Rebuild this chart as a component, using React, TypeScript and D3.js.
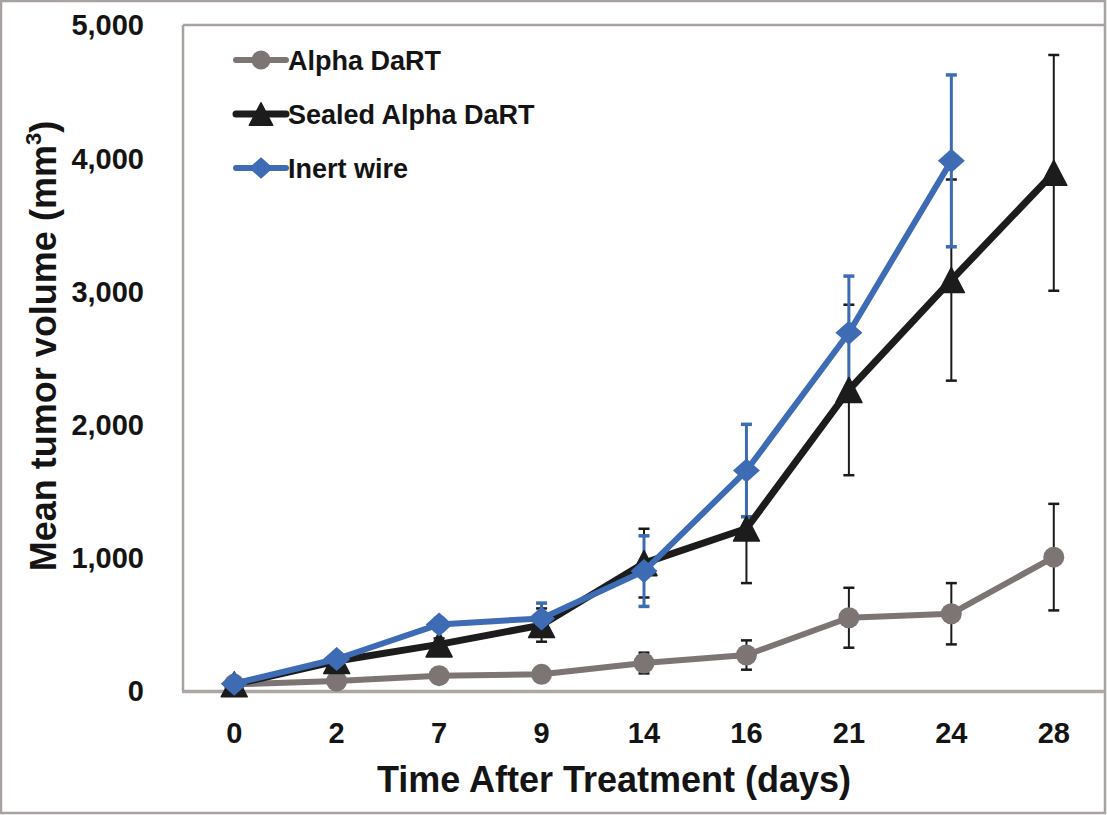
import React from "react";
import * as d3 from "d3";

// days after treatment (categorical axis)
const days = ["0", "2", "7", "9", "14", "16", "21", "24", "28"];
const yTicks = [0, 1000, 2000, 3000, 4000, 5000];

const alphaMean = [50, 75, 115, 125, 210, 270, 550, 580, 1005];
const alphaErr = [15, 20, 25, 25, 78, 110, 225, 230, 400];
const sealedMean = [50, 225, 350, 495, 960, 1220, 2260, 3085, 3890];
const sealedErr = [20, 35, 45, 125, 258, 410, 640, 755, 885];
const inertMean = [55, 240, 500, 545, 900, 1655, 2690, 3980, null];
const inertErr = [20, 35, 45, 115, 265, 347, 425, 645, null];

const W = 1107;
const H = 815;
const left = 183;
const right = 1105;
const top = 25;
const bottom = 691;

const FONT = "Arial, 'Liberation Sans', sans-serif";
const TEXT = "#141414";
const FRAME = "#a7a2a0";

type Series = {
  name: string;
  mean: (number | null)[];
  err: (number | null)[];
  color: string;
  width: number;
  errColor: string;
  errWidth: number;
  marker: "circle" | "triangle" | "diamond";
};

const series: Series[] = [
  { name: "Alpha DaRT", mean: alphaMean, err: alphaErr, color: "#7d7574", width: 6, errColor: "#1a1a1a", errWidth: 2, marker: "circle" },
  { name: "Sealed Alpha DaRT", mean: sealedMean, err: sealedErr, color: "#1c1c1c", width: 7, errColor: "#1a1a1a", errWidth: 2, marker: "triangle" },
  { name: "Inert wire", mean: inertMean, err: inertErr, color: "#3d6cb4", width: 6, errColor: "#3d6cb4", errWidth: 3, marker: "diamond" },
];

function Marker({ kind, x, y, color, s = 1 }: { kind: string; x: number; y: number; color: string; s?: number }) {
  if (kind === "circle") return <circle cx={x} cy={y} r={10.5 * s} fill={color} />;
  if (kind === "triangle") {
    const w = 13 * s;
    const h = 12.5 * s;
    return <path d={`M${x},${y - h}L${x + w},${y + h}L${x - w},${y + h}Z`} fill={color} stroke={color} strokeWidth={1.5} strokeLinejoin="round" />;
  }
  const w = 13.5 * s;
  const h = 12 * s;
  return <path d={`M${x},${y - h}L${x + w},${y}L${x},${y + h}L${x - w},${y}Z`} fill={color} />;
}

export default function App() {
  const x = d3.scaleBand<string>().domain(days).range([left, right]).padding(0);
  const y = d3.scaleLinear().domain([0, 5000]).range([bottom, top]);
  const cx = (d: string) => (x(d) ?? 0) + x.bandwidth() / 2;
  const fmt = d3.format(",");

  const line = d3
    .line<number | null>()
    .defined((v) => v !== null)
    .x((_, i) => cx(days[i]))
    .y((v) => y(v as number));

  return (
    <svg width={W} height={H} style={{ position: "absolute", left: 0, top: 0, background: "#fff" }} fontFamily={FONT}>
      <rect x={0} y={0} width={W} height={H} fill="#fff" />
      {/* outer frame */}
      <rect x={1} y={1} width={1104} height={812} fill="none" stroke={FRAME} strokeWidth={2.5} />
      {/* plot frame */}
      <line x1={left} x2={right} y1={top} y2={top} stroke={FRAME} strokeWidth={2.5} />
      <line x1={left} x2={left} y1={top} y2={bottom} stroke={FRAME} strokeWidth={2.5} />
      <line x1={left - 1} x2={right} y1={bottom + 0.5} y2={bottom + 0.5} stroke="#aca6a4" strokeWidth={3.5} />

      {/* y tick labels */}
      {yTicks.map((t) => (
        <text key={t} x={144} y={y(t)} dy="0.36em" textAnchor="end" fontSize={29} fontWeight="bold" fill={TEXT}>
          {fmt(t)}
        </text>
      ))}
      {/* x tick labels */}
      {days.map((d) => (
        <text key={d} x={cx(d)} y={733} dy="0.36em" textAnchor="middle" fontSize={29} fontWeight="bold" fill={TEXT}>
          {d}
        </text>
      ))}

      {/* axis titles */}
      <text x={614} y={792} textAnchor="middle" fontSize={36} fontWeight="bold" fill={TEXT}>
        Time After Treatment (days)
      </text>
      <text transform="translate(56,346) rotate(-90)" textAnchor="middle" fontSize={36} fontWeight="bold" fill={TEXT}>
        Mean tumor volume (mm<tspan fontSize={22} dy={-15}>3</tspan>
        <tspan dy={15}>)</tspan>
      </text>

      {/* error bars */}
      {series.map((s) =>
        s.mean.map((m, i) => {
          const e = s.err[i];
          if (m === null || e === null) return null;
          const px = cx(days[i]);
          const y1 = y(m + e);
          const y2 = y(m - e);
          return (
            <g key={s.name + i} stroke={s.errColor} strokeWidth={s.errWidth}>
              <line x1={px} x2={px} y1={y1} y2={y2} />
              <line x1={px - 5.5} x2={px + 5.5} y1={y1} y2={y1} strokeWidth={s.errWidth + 0.5} />
              <line x1={px - 5.5} x2={px + 5.5} y1={y2} y2={y2} strokeWidth={s.errWidth + 0.5} />
            </g>
          );
        })
      )}

      {/* lines and markers */}
      {series.map((s) => (
        <g key={s.name}>
          <path d={line(s.mean) ?? ""} fill="none" stroke={s.color} strokeWidth={s.width} strokeLinejoin="round" />
          {s.mean.map((m, i) =>
            m === null ? null : <Marker key={i} kind={s.marker} x={cx(days[i])} y={y(m)} color={s.color} />
          )}
        </g>
      ))}

      {/* legend */}
      {series.map((s, i) => {
        const ly = 60 + i * 54;
        return (
          <g key={s.name}>
            <line x1={236} x2={286} y1={ly} y2={ly} stroke={s.color} strokeWidth={s.width} strokeLinecap="round" />
            <Marker kind={s.marker} x={261} y={ly} color={s.color} s={0.9} />
            <text x={288} y={ly} dy="0.36em" fontSize={27} fontWeight="bold" fill={TEXT}>
              {s.name}
            </text>
          </g>
        );
      })}
    </svg>
  );
}
